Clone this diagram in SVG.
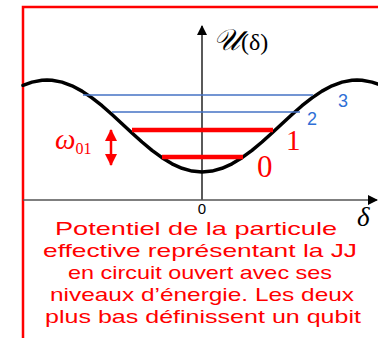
<svg xmlns="http://www.w3.org/2000/svg" width="378" height="338" viewBox="0 0 378 338">
<defs>
<style>
.frame{fill:none;stroke:#ff0000;stroke-width:2.5}
.axis{stroke:#000;stroke-width:1.3;fill:none}
.haxis{stroke:#555;stroke-width:1.5;fill:none}
.curve{fill:none;stroke:#000;stroke-width:3.5;stroke-linejoin:round;stroke-linecap:round}
.blue{stroke:#4472c4;stroke-width:1.6}
.red{stroke:#ff0000;stroke-width:4.5}
.cap{font-family:"Liberation Sans","DejaVu Sans",sans-serif;font-size:19px;fill:#ff0000;text-anchor:middle}
.serif{font-family:"Liberation Serif","DejaVu Serif",serif}
</style>
<marker id="ah" markerWidth="10" markerHeight="10" refX="9" refY="5" orient="auto" markerUnits="userSpaceOnUse">
<path d="M0,0 L10,5 L0,10 Z" fill="#000"/>
</marker>
<marker id="rh" markerWidth="12" markerHeight="12" refX="11" refY="6" orient="auto" markerUnits="userSpaceOnUse">
<path d="M0,0 L12,6 L0,12 Z" fill="#ff0000"/>
</marker>
</defs>
<rect x="0" y="0" width="378" height="338" fill="#fff"/>
<rect class="frame" x="23" y="7" width="370" height="340"/>
<g id="connectors">
<line class="axis" x1="202" y1="200" x2="202" y2="26" marker-end="url(#ah)"/>
<line class="haxis" x1="23" y1="200" x2="377" y2="200" marker-end="url(#ah)"/>
<line x1="111" y1="147" x2="111" y2="130" stroke="#ff0000" stroke-width="2.5" marker-end="url(#rh)"/>
<line x1="111" y1="147" x2="111" y2="165" stroke="#ff0000" stroke-width="2.5" marker-end="url(#rh)"/>
</g>
<g id="curve">
<polyline class="curve" points="23,85.3 32,82.1 42,80.2 47,80 52,80.2 62,82.1 72,85.8 82,91.1 92,97.9 102,105.7 112,114.5 122,123.7 132,133 142,142 152,150.3 162,157.7 172,163.8 182,168.3 192,171.1 202,172 212,171.1 222,168.3 232,163.8 242,157.7 252,150.3 262,142 272,133 282,123.7 292,114.5 302,105.7 312,97.9 322,91.1 332,85.8 342,82.1 352,80.2 357,80 362,80.2 372,82.1 378,84.1"/>
</g>
<g id="level3"><line class="blue" x1="83" y1="95" x2="313" y2="95"/><text x="338" y="107" font-family="Liberation Sans,sans-serif" font-size="18" fill="#2f6fd6">3</text></g>
<g id="level2"><line class="blue" x1="112" y1="112" x2="300" y2="112"/><text x="307" y="125" font-family="Liberation Sans,sans-serif" font-size="18" fill="#2f6fd6">2</text></g>
<g id="level1"><line class="red" x1="132" y1="130" x2="273" y2="130"/><text class="serif" x="286" y="150" font-size="29" fill="#ff0000">1</text></g>
<g id="level0"><line class="red" x1="162" y1="157" x2="243" y2="157"/><text class="serif" x="257" y="177" font-size="31" fill="#ff0000">0</text></g>
<g id="omega"><text class="serif" x="55" y="149" font-size="29" font-style="italic" fill="#ff0000">ω<tspan font-size="16" font-style="normal" dy="5">01</tspan></text></g>
<g id="ylabel"><text class="serif" x="213" y="50" fill="#000"><tspan font-size="30" font-style="italic">𝒰</tspan><tspan font-size="24" dx="1">(δ)</tspan></text></g>
<g id="xlabel"><text class="serif" x="357" y="226" font-size="27" font-style="italic" fill="#000">δ</text></g>
<g id="zero"><text x="202" y="214" font-family="Liberation Sans,sans-serif" font-size="15" text-anchor="middle" fill="#000">0</text></g>
<g id="caption">
<text class="cap" x="196" y="235" textLength="282" lengthAdjust="spacingAndGlyphs">Potentiel de la particule</text>
<text class="cap" x="200" y="257" textLength="314" lengthAdjust="spacingAndGlyphs">effective représentant la JJ</text>
<text class="cap" x="200" y="279" textLength="264" lengthAdjust="spacingAndGlyphs">en circuit ouvert avec ses</text>
<text class="cap" x="202" y="301" textLength="304" lengthAdjust="spacingAndGlyphs">niveaux d’énergie. Les deux</text>
<text class="cap" x="203" y="323" textLength="316" lengthAdjust="spacingAndGlyphs">plus bas définissent un qubit</text>
</g>
</svg>
